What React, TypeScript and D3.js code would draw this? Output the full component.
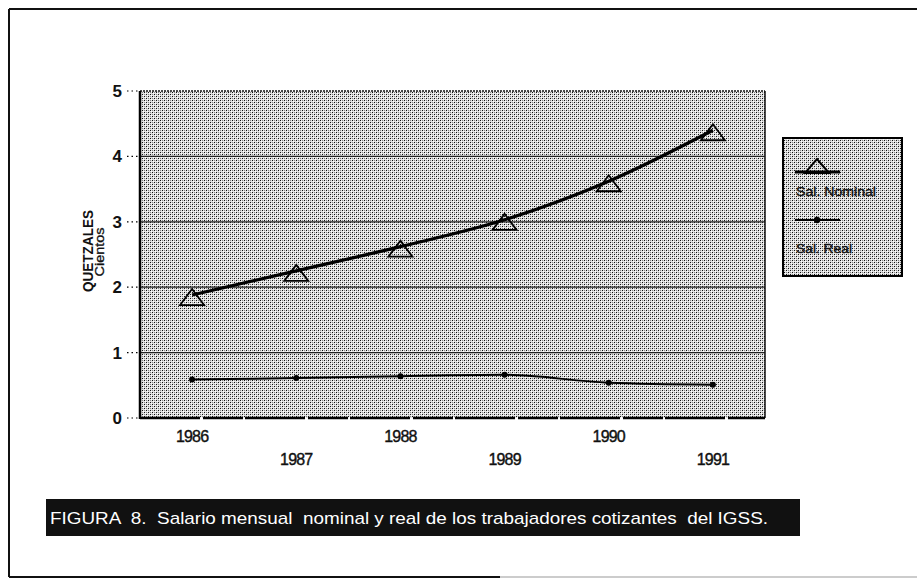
import React from "react";
import * as d3 from "d3";

const years = ["1986", "1987", "1988", "1989", "1990", "1991"];
const nominal = [1.88, 2.25, 2.62, 3.03, 3.62, 4.4];
const real = [0.59, 0.61, 0.64, 0.66, 0.54, 0.51];
const yTicks = [0, 1, 2, 3, 4, 5];
const seriesNames = ["Sal. Nominal", "Sal. Real"];
const caption = "FIGURA  8.  Salario mensual  nominal y real de los trabajadores cotizantes  del IGSS.";
const yTitle = "QUETZALES";
const ySubTitle = "Cientos";

const W = 917;
const H = 580;
const plot = { left: 140, right: 765, top: 91, bottom: 418 };

export default function App() {
  const x = d3.scalePoint<string>().domain(years).range([plot.left, plot.right]).padding(0.5);
  const y = d3.scaleLinear().domain([0, 5]).range([plot.bottom, plot.top]);

  const lineGen = d3
    .line<number>()
    .x((_, i) => x(years[i]) as number)
    .y((d) => y(d))
    .curve(d3.curveMonotoneX);

  const tri = (cx: number, cy: number) =>
    `M${cx},${cy - 9} L${cx + 12},${cy + 7} L${cx - 12},${cy + 7} Z`;

  const font = "'Liberation Sans', Arial, sans-serif";

  return (
    <svg
      width={W}
      height={H}
      style={{ position: "absolute", left: 0, top: 0, background: "#fff" }}
      fontFamily={font}
    >
      <defs>
        <pattern id="dots" width="4" height="4" patternUnits="userSpaceOnUse">
          <rect width="4" height="4" fill="#e2e2e2" />
          <rect x="0" y="0" width="1" height="1" fill="#111" />
          <rect x="2" y="2" width="1" height="1" fill="#111" />
          <rect x="1" y="1" width="1" height="1" fill="#ffffff" />
          <rect x="3" y="3" width="1" height="1" fill="#ffffff" />
          <rect x="2" y="0" width="1" height="1" fill="#888" />
          <rect x="0" y="2" width="1" height="1" fill="#888" />
        </pattern>
      </defs>

      {/* outer frame */}
      <line x1={9} y1={9} x2={917} y2={9} stroke="#111" strokeWidth={2} />
      <line x1={9} y1={9} x2={9} y2={577} stroke="#111" strokeWidth={2} />
      <line x1={9} y1={577} x2={500} y2={577} stroke="#111" strokeWidth={2} />
      <line x1={500} y1={577} x2={917} y2={577} stroke="#999" strokeWidth={1} />

      {/* plot background */}
      <rect
        x={plot.left}
        y={plot.top}
        width={plot.right - plot.left}
        height={plot.bottom - plot.top}
        fill="url(#dots)"
      />

      {/* gridlines */}
      {yTicks
        .filter((t) => t > 0 && t < 5)
        .map((t) => (
          <line
            key={"g" + t}
            x1={plot.left}
            x2={plot.right}
            y1={y(t)}
            y2={y(t)}
            stroke="#222"
            strokeWidth={1.2}
          />
        ))}

      {/* plot borders */}
      <line x1={plot.left} x2={plot.right} y1={plot.top} y2={plot.top} stroke="#111" strokeWidth={1.5} strokeDasharray="2,1" />
      <line x1={plot.right} x2={plot.right} y1={plot.top} y2={plot.bottom} stroke="#111" strokeWidth={1.5} />
      <line x1={plot.left} x2={plot.left} y1={plot.top} y2={plot.bottom + 1} stroke="#000" strokeWidth={2.5} />
      <line x1={plot.left} x2={plot.right} y1={plot.bottom} y2={plot.bottom} stroke="#000" strokeWidth={2.5} strokeDasharray="60,3,40,2" />

      {/* y ticks & labels */}
      {yTicks.map((t) => (
        <g key={"t" + t}>
          <line x1={127} x2={139} y1={y(t)} y2={y(t)} stroke="#000" strokeWidth={1.2} strokeDasharray="1.5,3" />
          <text x={122} y={y(t) + 6} textAnchor="end" fontSize={17} fontWeight="bold" fill="#111">
            {t}
          </text>
        </g>
      ))}

      {/* y title */}
      <text
        transform={`translate(93,251) rotate(-90)`}
        textAnchor="middle"
        fontSize={14}
        fontWeight="bold"
        fill="#111"
        textLength={82}
        lengthAdjust="spacingAndGlyphs"
      >
        {yTitle}
      </text>
      <text
        transform={`translate(104,252) rotate(-90)`}
        textAnchor="middle"
        fontSize={12}
        fill="#111"
        stroke="#111"
        strokeWidth={0.3}
        textLength={49}
        lengthAdjust="spacingAndGlyphs"
      >
        {ySubTitle}
      </text>

      {/* x labels */}
      {years.map((yr, i) => (
        <text
          key={yr}
          x={x(yr) as number}
          y={i % 2 === 0 ? 442 : 465}
          textAnchor="middle"
          fontSize={16}
          fill="#111"
          stroke="#111"
          strokeWidth={0.4}
          style={{ letterSpacing: "-0.8px" }}
        >
          {yr}
        </text>
      ))}

      {/* nominal line */}
      <path d={lineGen(nominal) as string} fill="none" stroke="#000" strokeWidth={3.2} />
      {nominal.map((v, i) => (
        <path key={"n" + i} d={tri(x(years[i]) as number, y(v) + 3)} fill="none" stroke="#000" strokeWidth={1.8} />
      ))}

      {/* real line */}
      <path d={lineGen(real) as string} fill="none" stroke="#000" strokeWidth={2} />
      {real.map((v, i) => (
        <circle key={"r" + i} cx={x(years[i]) as number} cy={y(v)} r={3} fill="#000" />
      ))}

      {/* legend */}
      <rect x={783} y={138} width={119} height={138} fill="url(#dots)" stroke="#000" strokeWidth={2} />
      <line x1={795} x2={840} y1={172} y2={172} stroke="#000" strokeWidth={3} />
      <path d="M817,159 L829,173 L805,173 Z" fill="none" stroke="#000" strokeWidth={2} />
      <text x={796} y={196} fontSize={13} fill="#111" stroke="#111" strokeWidth={0.4} textLength={80} lengthAdjust="spacingAndGlyphs">
        {seriesNames[0]}
      </text>
      <line x1={795} x2={840} y1={220} y2={220} stroke="#000" strokeWidth={2} />
      <circle cx={817} cy={220} r={3.2} fill="#000" />
      <text x={796} y={253} fontSize={13} fill="#111" stroke="#111" strokeWidth={0.4} textLength={56} lengthAdjust="spacingAndGlyphs">
        {seriesNames[1]}
      </text>

      {/* caption band */}
      <rect x={46} y={499} width={754} height={37} fill="#111" />
      <text
        x={50}
        y={524}
        fontSize={17}
        fill="#fff"
        textLength={718}
        lengthAdjust="spacingAndGlyphs"
        style={{ whiteSpace: "pre" }}
      >
        {caption}
      </text>
    </svg>
  );
}
